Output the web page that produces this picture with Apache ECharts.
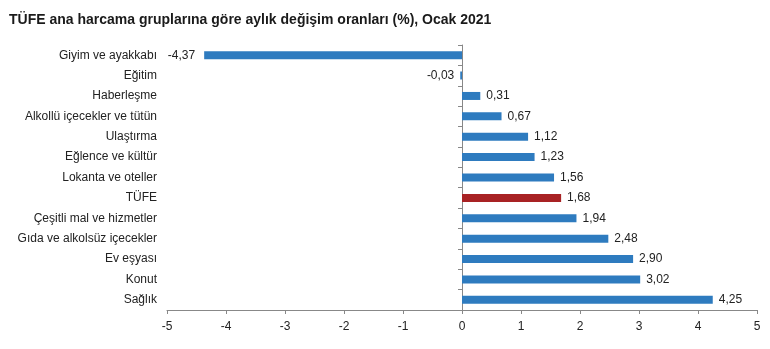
<!DOCTYPE html>
<html><head><meta charset="utf-8">
<script src="https://cdn.jsdelivr.net/npm/echarts@6/dist/echarts.min.js"></script>
<style>html,body{margin:0;padding:0;background:#fff}#c{width:770px;height:349px}</style>
</head><body><div id="c"></div>
<script>
const title = "TÜFE ana harcama gruplarına göre aylık değişim oranları (%), Ocak 2021";
const categories = ["Giyim ve ayakkabı","Eğitim","Haberleşme","Alkollü içecekler ve tütün","Ulaştırma","Eğlence ve kültür","Lokanta ve oteller","TÜFE","Çeşitli mal ve hizmetler","Gıda ve alkolsüz içecekler","Ev eşyası","Konut","Sağlık"];
const values = [-4.37,-0.03,0.31,0.67,1.12,1.23,1.56,1.68,1.94,2.48,2.90,3.02,4.25];
const highlight = "TÜFE";
const blue = "#2e7bbf", red = "#a82224";
const font = "Liberation Sans, Arial, sans-serif";
const chart = echarts.init(document.getElementById('c'));
chart.setOption({
  animation:false,
  title:{text:title,left:4,top:8,textStyle:{fontFamily:font,fontSize:14,fontWeight:'bold',color:'#1a1a1a'}},
  grid:{left:167,right:13,top:45,bottom:39},
  xAxis:{type:'value',min:-5,max:5,interval:1,
    axisLine:{show:true,onZero:false,lineStyle:{color:'#888'}},
    axisTick:{show:true,length:4,lineStyle:{color:'#888'}},
    splitLine:{show:false},
    axisLabel:{fontFamily:font,fontSize:12,color:'#222',margin:11}},
  yAxis:[
    {type:'category',data:categories,inverse:true,position:'left',
     axisLine:{show:false,onZero:false},axisTick:{show:false},
     axisLabel:{fontFamily:font,fontSize:12,color:'#222',margin:10}},
    {type:'category',data:categories,inverse:true,position:'left',
     axisLine:{show:true,onZero:true,onZeroAxisIndex:0,lineStyle:{color:'#888'}},
     axisTick:{show:true,length:4,lineStyle:{color:'#888'}},
     axisLabel:{show:false}}
  ],
  series:[{type:'bar',yAxisIndex:0,barWidth:8,
    data:values.map((v,i)=>({value:v,itemStyle:{color:categories[i]===highlight?red:blue},
      label:{position:v<0?'left':'right',distance:v<-1?9:6}})),
    label:{show:true,fontFamily:font,fontSize:12,color:'#222',
      formatter:p=>p.value.toFixed(2).replace('.',',')}}]
});
</script></body></html>
